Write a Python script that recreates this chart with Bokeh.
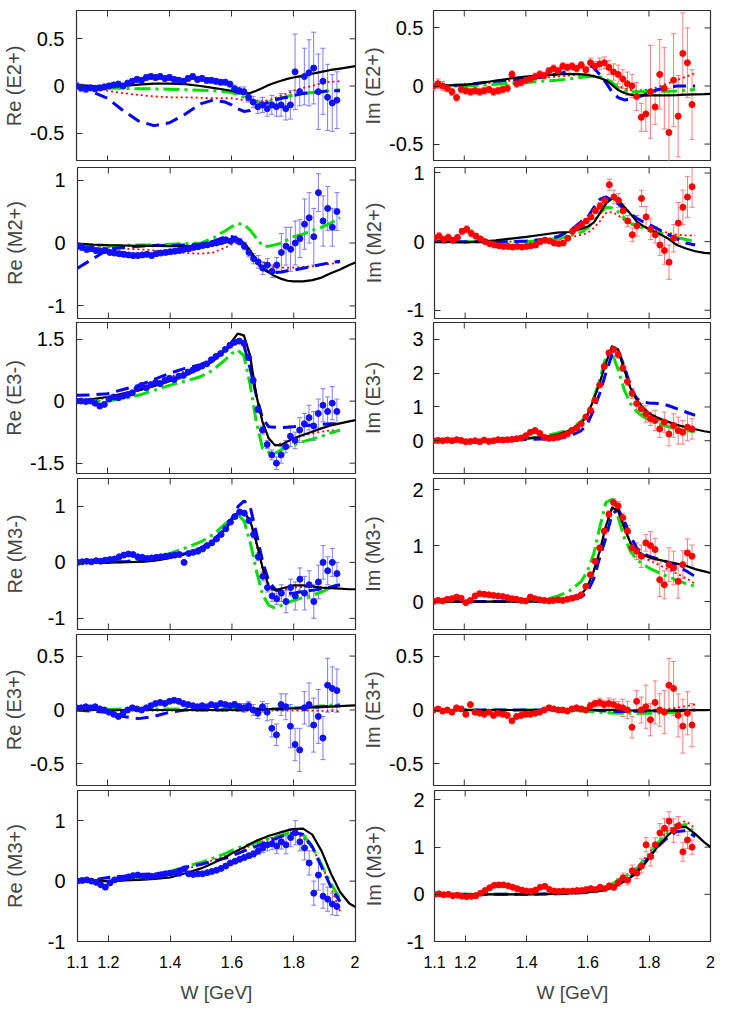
import numpy as np
from bokeh.plotting import figure
from bokeh.models import (ColumnDataSource, Range1d, FixedTicker,
                          Whisker, TeeHead, CustomJSTickFormatter)
from bokeh.layouts import column, row
from bokeh.embed import file_html
from bokeh.resources import INLINE

# ---------------- data ----------------
W_DATA = [1.100, 1.115, 1.130, 1.145, 1.160, 1.175, 1.190, 1.205, 1.220, 1.235,
          1.250, 1.265, 1.280, 1.295, 1.310, 1.325, 1.340, 1.355, 1.370, 1.385,
          1.400, 1.415, 1.430, 1.445, 1.460, 1.475, 1.490, 1.505, 1.520, 1.535,
          1.550, 1.565, 1.580, 1.595, 1.610, 1.625, 1.640, 1.655, 1.670, 1.685,
          1.700, 1.715, 1.730, 1.745, 1.760, 1.775, 1.790, 1.805, 1.820, 1.835,
          1.850, 1.865, 1.880, 1.895, 1.910, 1.925, 1.940]

W_CURVE = [1.10, 1.15, 1.20, 1.25, 1.30, 1.35, 1.40, 1.45, 1.50, 1.54, 1.58,
           1.60, 1.62, 1.64, 1.66, 1.68, 1.70, 1.72, 1.74, 1.76, 1.78, 1.80,
           1.83, 1.86, 1.89, 1.92, 1.95, 1.98, 2.00]

X_TICKS = [1.1, 1.2, 1.4, 1.6, 1.8, 2.0]

# Re(E2+)
RE_E2P_BLACK = [0.01, 0.0, -0.01, 0.0, 0.015, 0.025, 0.025, 0.02, 0.0, -0.02, -0.04, -0.05, -0.07, -0.08, -0.075, -0.05, -0.02, 0.01, 0.035, 0.055, 0.075, 0.09, 0.11, 0.13, 0.15, 0.17, 0.185, 0.2, 0.21]
RE_E2P_BLUE = [0.0, -0.06, -0.13, -0.26, -0.37, -0.42, -0.39, -0.3, -0.19, -0.15, -0.17, -0.2, -0.24, -0.27, -0.26, -0.23, -0.2, -0.17, -0.15, -0.13, -0.12, -0.1, -0.08, -0.07, -0.06, -0.05, -0.05, None, None]
RE_E2P_GREEN = [-0.01, -0.015, -0.02, -0.025, -0.03, -0.03, -0.035, -0.04, -0.045, -0.05, -0.06, -0.07, -0.09, -0.12, -0.15, -0.17, -0.18, -0.17, -0.15, -0.13, -0.11, -0.1, -0.08, -0.07, -0.06, -0.05, -0.04, None, None]
RE_E2P_RED = [0.0, -0.03, -0.05, -0.075, -0.095, -0.11, -0.12, -0.12, -0.125, -0.13, -0.13, -0.13, -0.14, -0.15, -0.16, -0.16, -0.16, -0.15, -0.13, -0.1, -0.08, -0.05, -0.02, 0.0, 0.03, 0.045, 0.05, None, None]
RE_E2P_DATA = [0.0, -0.02, -0.03, -0.02, -0.03, -0.02, -0.01, 0.0, 0.01, 0.02,
               0.0, 0.03, 0.05, 0.07, 0.06, 0.09, 0.1, 0.09, 0.1, 0.08,
               0.09, 0.07, 0.06, 0.05, 0.08, 0.1, 0.07, 0.08, 0.06, 0.06,
               0.05, 0.04, 0.04, 0.02, -0.03, -0.05, -0.06, -0.12, -0.17, -0.22,
               -0.2, -0.24, -0.2, -0.22, -0.2, -0.24, -0.2, 0.15, -0.06, 0.1,
               0.14, 0.19, -0.06, 0.05, -0.12, -0.18, -0.15]
ERR_E2P = [0.04, 0.04, 0.04, 0.03, 0.03, 0.03, 0.03, 0.03, 0.03, 0.03,
           0.03, 0.03, 0.03, 0.03, 0.03, 0.03, 0.03, 0.03, 0.03, 0.03,
           0.03, 0.03, 0.03, 0.03, 0.03, 0.03, 0.03, 0.03, 0.03, 0.03,
           0.03, 0.03, 0.03, 0.03, 0.04, 0.04, 0.05, 0.05, 0.06, 0.07,
           0.08, 0.08, 0.1, 0.1, 0.12, 0.12, 0.15, 0.4, 0.15, 0.3,
           0.35, 0.38, 0.4, 0.35, 0.35, 0.3, 0.3]

# Im(E2+)
IM_E2P_BLACK = [0.0, 0.005, 0.01, 0.025, 0.045, 0.065, 0.08, 0.09, 0.1, 0.105, 0.1, 0.095, 0.085, 0.07, 0.05, 0.01, -0.035, -0.06, -0.075, -0.08, -0.08, -0.08, -0.08, -0.08, -0.078, -0.075, -0.072, -0.07, -0.068]
IM_E2P_BLUE = [0.0, 0.005, 0.01, 0.025, 0.04, 0.05, 0.06, 0.075, 0.1, 0.13, 0.18, 0.19, 0.16, 0.1, 0.03, -0.05, -0.1, -0.12, -0.115, -0.1, -0.08, -0.06, -0.03, -0.015, 0.0, 0.0, 0.0, None, None]
IM_E2P_GREEN = [0.0, 0.0, 0.0, 0.008, 0.015, 0.022, 0.03, 0.04, 0.05, 0.06, 0.075, 0.08, 0.085, 0.08, 0.06, 0.03, -0.015, -0.04, -0.05, -0.05, -0.048, -0.045, -0.045, -0.045, -0.042, -0.038, -0.03, None, None]
IM_E2P_RED = [0.0, 0.005, 0.01, 0.02, 0.03, 0.045, 0.06, 0.07, 0.08, 0.09, 0.1, 0.1, 0.09, 0.07, 0.05, 0.02, 0.0, -0.02, -0.035, -0.04, -0.035, -0.03, -0.01, 0.02, 0.05, 0.08, 0.11, None, None]
IM_E2P_DATA = [0.0, 0.02, 0.0, -0.02, -0.05, -0.1, -0.03, -0.04, -0.05, -0.04,
               -0.05, -0.04, -0.03, -0.05, -0.04, -0.03, -0.02, 0.1, 0.02, 0.03,
               0.05, 0.06, 0.08, 0.1, 0.09, 0.13, 0.15, 0.13, 0.17, 0.16,
               0.17, 0.15, 0.18, 0.14, 0.2, 0.17, 0.19, 0.2, 0.16, 0.12,
               0.1, 0.06, 0.02, 0.0, -0.09, -0.27, -0.24, -0.05, -0.18, 0.1,
               -0.02, -0.4, 0.05, -0.26, 0.28, 0.2, -0.16]

# Re(M2+)
RE_M2P_BLACK = [-0.01, -0.025, -0.035, -0.04, -0.045, -0.045, -0.05, -0.05, -0.05, -0.03, 0.01, 0.04, 0.05, 0.0, -0.13, -0.28, -0.39, -0.47, -0.53, -0.57, -0.6, -0.61, -0.61, -0.59, -0.55, -0.48, -0.42, -0.35, -0.31]
RE_M2P_BLUE = [-0.4, -0.25, -0.1, -0.07, -0.05, -0.04, -0.04, -0.03, -0.02, 0.03, 0.1, 0.1, 0.06, -0.05, -0.16, -0.3, -0.41, -0.46, -0.47, -0.46, -0.44, -0.43, -0.4, -0.37, -0.34, -0.31, -0.29, None, None]
RE_M2P_GREEN = [-0.03, -0.05, -0.05, -0.04, -0.03, -0.03, -0.02, -0.01, 0.0, 0.08, 0.2, 0.26, 0.31, 0.29, 0.2, 0.07, -0.05, -0.05, -0.03, 0.0, 0.05, 0.1, 0.14, 0.2, 0.25, 0.32, 0.4, None, None]
RE_M2P_RED = [-0.05, -0.06, -0.075, -0.09, -0.1, -0.12, -0.14, -0.16, -0.17, -0.15, -0.07, -0.02, 0.0, -0.05, -0.14, -0.25, -0.3, -0.36, -0.39, -0.39, -0.39, -0.39, -0.38, -0.37, -0.35, -0.33, -0.31, None, None]
RE_M2P_DATA = [-0.05, -0.07, -0.1, -0.09, -0.12, -0.13, -0.12, -0.15, -0.16, -0.17,
               -0.18, -0.19, -0.2, -0.2, -0.19, -0.18, -0.2, -0.17, -0.16, -0.15,
               -0.14, -0.13, -0.12, -0.1, -0.09, -0.07, -0.06, -0.04, -0.03, -0.01,
               0.0, 0.02, 0.05, 0.03, 0.06, 0.02, -0.05, -0.15, -0.25, -0.3,
               -0.4, -0.35, -0.45, -0.35, -0.15, -0.05, -0.1, 0.0, 0.07, 0.3,
               0.4, 0.1, 0.8, 0.35, 0.55, 0.25, 0.5]
ERR_M2P = [0.05, 0.05, 0.05, 0.04, 0.04, 0.04, 0.04, 0.04, 0.04, 0.04,
           0.04, 0.04, 0.04, 0.04, 0.04, 0.04, 0.04, 0.04, 0.04, 0.04,
           0.04, 0.04, 0.04, 0.04, 0.04, 0.04, 0.04, 0.04, 0.04, 0.04,
           0.04, 0.04, 0.04, 0.04, 0.05, 0.05, 0.06, 0.07, 0.08, 0.1,
           0.1, 0.1, 0.1, 0.12, 0.3, 0.3, 0.35, 0.35, 0.3, 0.4,
           0.4, 0.45, 0.3, 0.4, 0.35, 0.3, 0.3]

# Im(M2+)
IM_M2P_BLACK = [0.0, -0.005, -0.01, 0.0, 0.02, 0.045, 0.07, 0.1, 0.13, 0.14, 0.19, 0.22, 0.28, 0.42, 0.56, 0.63, 0.6, 0.5, 0.4, 0.29, 0.23, 0.18, 0.12, 0.05, -0.05, -0.1, -0.14, -0.165, -0.17]
IM_M2P_BLUE = [0.0, 0.0, 0.0, 0.0, 0.0, 0.0, 0.01, 0.03, 0.07, 0.15, 0.3, 0.36, 0.5, 0.62, 0.65, 0.6, 0.55, 0.47, 0.4, 0.34, 0.29, 0.25, 0.18, 0.11, 0.04, -0.02, -0.05, None, None]
IM_M2P_GREEN = [0.0, 0.0, 0.0, 0.0, 0.0, 0.0, 0.0, 0.02, 0.045, 0.08, 0.14, 0.2, 0.3, 0.42, 0.5, 0.49, 0.43, 0.34, 0.27, 0.23, 0.2, 0.16, 0.13, 0.1, 0.06, 0.03, 0.0, None, None]
IM_M2P_RED = [0.0, 0.0, 0.0, 0.0, 0.0, 0.0, 0.0, 0.01, 0.03, 0.06, 0.1, 0.13, 0.2, 0.3, 0.42, 0.43, 0.38, 0.31, 0.25, 0.22, 0.2, 0.19, 0.16, 0.13, 0.1, 0.09, 0.09, None, None]
IM_M2P_DATA = [0.05, 0.08, 0.03, 0.06, 0.02, 0.06, 0.15, 0.18, 0.12, 0.08,
               0.04, 0.0, -0.03, -0.05, -0.06, -0.07, -0.07, -0.08, -0.07, -0.08,
               -0.07, -0.06, -0.05, 0.0, 0.02, 0.01, -0.02, -0.03, -0.02, 0.05,
               0.15, 0.2, 0.25, 0.3, 0.36, 0.45, 0.52, 0.6, 0.83, 0.65,
               0.6, 0.45, 0.3, 0.1, 0.23, 0.63, 0.36, 0.18, 0.1, -0.05,
               -0.13, -0.3, 0.05, 0.27, 0.5, 0.65, 0.8]
ERR_IM_M2P = [0.05, 0.05, 0.05, 0.05, 0.04, 0.04, 0.04, 0.05, 0.05, 0.04,
              0.03, 0.03, 0.03, 0.03, 0.03, 0.03, 0.03, 0.03, 0.03, 0.03,
              0.03, 0.03, 0.03, 0.03, 0.03, 0.03, 0.03, 0.03, 0.03, 0.03,
              0.03, 0.03, 0.03, 0.03, 0.04, 0.04, 0.05, 0.06, 0.08, 0.1,
              0.1, 0.1, 0.08, 0.1, 0.15, 0.12, 0.15, 0.15, 0.12, 0.15,
              0.2, 0.25, 0.2, 0.3, 0.25, 0.3, 0.3]

# Re(E3-)
RE_E3M_BLACK = [0.0, 0.05, 0.1, 0.18, 0.26, 0.36, 0.48, 0.62, 0.79, 0.96, 1.23, 1.43, 1.63, 1.59, 1.1, 0.14, -0.5, -0.9, -1.07, -1.06, -0.98, -0.9, -0.82, -0.74, -0.66, -0.59, -0.54, -0.49, -0.46]
RE_E3M_BLUE = [0.14, 0.15, 0.18, 0.28, 0.38, 0.52, 0.67, 0.79, 0.88, 1.02, 1.25, 1.35, 1.44, 1.35, 0.79, 0.14, -0.42, -0.62, -0.63, -0.64, -0.63, -0.62, -0.6, -0.58, -0.56, -0.55, -0.54, None, None]
RE_E3M_GREEN = [0.0, 0.0, 0.0, 0.06, 0.14, 0.26, 0.38, 0.48, 0.59, 0.75, 1.0, 1.15, 1.23, 1.1, 0.4, -0.5, -1.14, -1.24, -1.26, -1.18, -1.12, -1.06, -0.98, -0.92, -0.85, -0.77, -0.7, None, None]
RE_E3M_RED = [0.0, 0.02, 0.08, 0.19, 0.3, 0.44, 0.58, 0.72, 0.87, 0.98, 1.25, 1.43, 1.63, 1.57, 1.1, 0.14, -0.5, -0.9, -1.05, -1.03, -0.98, -0.9, -0.84, -0.78, -0.74, -0.71, -0.7, None, None]
RE_E3M_DATA = [0.0, 0.0, -0.01, 0.0, -0.05, -0.12, -0.08, 0.05, 0.1, 0.08,
               0.12, 0.15, 0.2, 0.3, 0.38, 0.32, 0.4, 0.45, 0.42, 0.5,
               0.55, 0.52, 0.6, 0.62, 0.7, 0.75, 0.8, 0.85, 0.9, 1.0,
               1.08, 1.15, 1.25, 1.35, 1.42, 1.45, 1.4, 1.05, 0.5, -0.2,
               -0.7, -1.05, -1.3, -1.5, -1.3, -1.1, -0.85, -0.95, -0.7, -0.55,
               -0.4, -0.6, -0.3, -0.1, -0.25, -0.05, -0.25]
ERR_E3M = [0.03, 0.03, 0.03, 0.03, 0.04, 0.04, 0.04, 0.04, 0.04, 0.04,
           0.04, 0.04, 0.04, 0.04, 0.04, 0.04, 0.04, 0.04, 0.04, 0.04,
           0.04, 0.04, 0.04, 0.04, 0.04, 0.04, 0.04, 0.04, 0.04, 0.04,
           0.04, 0.04, 0.05, 0.05, 0.05, 0.05, 0.06, 0.06, 0.08, 0.08,
           0.1, 0.1, 0.12, 0.15, 0.2, 0.15, 0.25, 0.2, 0.3, 0.25,
           0.3, 0.35, 0.35, 0.4, 0.35, 0.4, 0.3]

# Im(E3-)
IM_E3M_BLACK = [0.0, 0.0, 0.01, 0.015, 0.02, 0.04, 0.07, 0.11, 0.17, 0.3, 0.52, 0.76, 1.21, 1.71, 2.3, 2.8, 2.7, 2.1, 1.56, 1.21, 0.98, 0.81, 0.67, 0.57, 0.47, 0.4, 0.34, 0.28, 0.25]
IM_E3M_BLUE = [0.0, 0.0, 0.0, 0.01, 0.02, 0.03, 0.04, 0.05, 0.06, 0.12, 0.3, 0.5, 0.9, 1.4, 2.0, 2.55, 2.65, 2.2, 1.6, 1.25, 1.15, 1.12, 1.1, 1.05, 0.95, 0.85, 0.75, None, None]
IM_E3M_GREEN = [0.0, 0.0, 0.0, 0.01, 0.02, 0.03, 0.05, 0.12, 0.22, 0.32, 0.57, 0.81, 1.25, 1.8, 2.5, 2.6, 2.1, 1.5, 1.1, 0.86, 0.72, 0.62, 0.5, 0.42, 0.35, 0.3, 0.27, None, None]
IM_E3M_RED = [0.0, 0.0, 0.01, 0.015, 0.02, 0.04, 0.07, 0.11, 0.18, 0.3, 0.52, 0.76, 1.2, 1.7, 2.3, 2.75, 2.65, 2.1, 1.58, 1.25, 1.0, 0.84, 0.68, 0.57, 0.47, 0.4, 0.35, None, None]
IM_E3M_DATA = [0.0, 0.01, 0.0, 0.02, 0.0, 0.03, 0.01, -0.03, -0.02, 0.0,
               -0.03, 0.02, -0.02, 0.0, 0.03, 0.02, 0.03, 0.04, 0.06, 0.08,
               0.15, 0.25, 0.3, 0.22, 0.1, 0.07, 0.08, 0.1, 0.15, 0.2,
               0.3, 0.38, 0.5, 0.7, 0.9, 1.2, 1.65, 2.2, 2.6, 2.7,
               2.55, 2.15, 1.75, 1.4, 1.1, 0.95, 0.8, 0.65, 0.6, 0.35,
               0.55, 0.2, 0.45, 0.3, 0.25, 0.4, 0.35]

# Re(M3-)
RE_M3M_BLACK = [0.0, 0.0, 0.0, 0.005, 0.01, 0.03, 0.08, 0.15, 0.25, 0.37, 0.6, 0.76, 0.9, 0.9, 0.73, 0.34, -0.11, -0.44, -0.5, -0.47, -0.44, -0.41, -0.41, -0.43, -0.45, -0.46, -0.47, -0.48, -0.48]
RE_M3M_BLUE = [0.0, 0.0, 0.0, 0.01, 0.02, 0.04, 0.09, 0.16, 0.26, 0.4, 0.62, 0.79, 1.0, 1.1, 0.97, 0.5, 0.0, -0.35, -0.48, -0.53, -0.55, -0.55, -0.52, -0.5, -0.47, -0.44, -0.4, None, None]
RE_M3M_GREEN = [0.0, 0.0, 0.0, 0.02, 0.04, 0.09, 0.16, 0.26, 0.37, 0.5, 0.7, 0.79, 0.86, 0.73, 0.34, -0.17, -0.59, -0.77, -0.82, -0.77, -0.72, -0.68, -0.63, -0.59, -0.53, -0.45, -0.37, None, None]
RE_M3M_RED = [0.0, 0.0, 0.0, 0.005, 0.01, 0.03, 0.08, 0.15, 0.26, 0.38, 0.6, 0.76, 0.89, 0.88, 0.7, 0.3, -0.15, -0.45, -0.52, -0.5, -0.47, -0.45, -0.44, -0.44, -0.45, -0.45, -0.45, None, None]
RE_M3M_DATA = [0.0, 0.01, 0.02, 0.01, 0.03, 0.02, 0.04, 0.05, 0.06, 0.1,
               0.13, 0.15, 0.14, 0.1, 0.09, 0.07, 0.08, 0.09, 0.1, 0.11,
               0.12, 0.13, 0.14, 0.0, 0.16, 0.18, 0.2, 0.24, 0.3, 0.35,
               0.42, 0.5, 0.6, 0.72, 0.82, 0.9, 0.88, 0.75, 0.5, 0.1,
               -0.25, -0.45, -0.6, -0.65, -0.55, -0.7, -0.45, -0.6, -0.3, -0.55,
               -0.4, -0.7, -0.35, 0.0, -0.15, 0.0, -0.2]
ERR_M3M = [0.03, 0.03, 0.03, 0.02, 0.02, 0.02, 0.02, 0.02, 0.02, 0.02,
           0.02, 0.02, 0.02, 0.02, 0.02, 0.02, 0.02, 0.02, 0.02, 0.02,
           0.02, 0.02, 0.02, 0.02, 0.02, 0.02, 0.02, 0.02, 0.02, 0.02,
           0.02, 0.02, 0.02, 0.02, 0.03, 0.03, 0.04, 0.05, 0.06, 0.07,
           0.08, 0.08, 0.1, 0.1, 0.15, 0.2, 0.15, 0.25, 0.2, 0.3,
           0.25, 0.3, 0.3, 0.3, 0.25, 0.25, 0.2]

# Im(M3-)
IM_M3M_BLACK = [0.0, 0.0, 0.0, 0.0, 0.0, 0.0, 0.0, 0.005, 0.01, 0.02, 0.12, 0.27, 0.54, 0.9, 1.35, 1.68, 1.62, 1.32, 1.05, 0.9, 0.84, 0.79, 0.75, 0.71, 0.68, 0.64, 0.58, 0.54, 0.51]
IM_M3M_BLUE = [0.0, 0.0, 0.0, 0.0, 0.0, 0.0, 0.0, 0.005, 0.01, 0.02, 0.08, 0.17, 0.4, 0.78, 1.14, 1.56, 1.65, 1.44, 1.17, 0.96, 0.86, 0.81, 0.76, 0.71, 0.64, 0.55, 0.45, None, None]
IM_M3M_GREEN = [0.0, 0.0, 0.0, 0.0, 0.0, 0.0, 0.0, 0.02, 0.09, 0.18, 0.36, 0.54, 0.84, 1.32, 1.77, 1.83, 1.5, 1.14, 0.9, 0.75, 0.67, 0.6, 0.52, 0.45, 0.38, 0.32, 0.27, None, None]
IM_M3M_RED = [0.0, 0.0, 0.0, 0.0, 0.0, 0.0, 0.0, 0.005, 0.01, 0.02, 0.12, 0.27, 0.52, 0.88, 1.32, 1.65, 1.6, 1.3, 1.03, 0.88, 0.8, 0.74, 0.66, 0.58, 0.5, 0.42, 0.32, None, None]
IM_M3M_DATA = [0.0, 0.02, 0.01, 0.04, 0.05, 0.08, 0.06, -0.02, 0.02, 0.1,
               0.14, 0.13, 0.12, 0.11, 0.1, 0.09, 0.07, 0.05, 0.04, 0.02,
               0.01, 0.08, 0.05, 0.03, 0.02, 0.01, 0.02, 0.03, 0.02, 0.04,
               0.06, 0.08, 0.12, 0.27, 0.48, 0.72, 0.96, 1.26, 1.56, 1.77,
               1.71, 1.5, 1.26, 0.96, 0.9, 0.81, 1.05, 1.0, 0.93, 0.39,
               0.3, 0.66, 0.6, 0.36, 0.66, 0.87, 0.81]

# Re(E3+)
RE_E3P_BLACK = [0.0, 0.0, 0.0, 0.0, 0.0, 0.0, 0.0, 0.0, 0.0, 0.0, 0.0, 0.0, 0.002, 0.004, 0.005, 0.006, 0.007, 0.008, 0.01, 0.012, 0.014, 0.016, 0.02, 0.024, 0.028, 0.032, 0.036, 0.04, 0.042]
RE_E3P_BLUE = [0.0, -0.01, -0.02, -0.06, -0.08, -0.06, -0.02, 0.0, 0.0, 0.0, 0.0, 0.0, 0.0, 0.0, 0.005, 0.005, 0.005, 0.006, 0.008, 0.01, 0.012, 0.015, 0.02, 0.025, 0.03, 0.035, 0.04, None, None]
RE_E3P_GREEN = [0.0, 0.0, 0.005, 0.01, 0.01, 0.01, 0.01, 0.01, 0.01, 0.01, 0.01, 0.01, 0.01, 0.01, 0.01, 0.01, 0.01, 0.01, 0.01, 0.012, 0.015, 0.018, 0.022, 0.03, 0.038, 0.045, 0.05, None, None]
RE_E3P_RED = [0.0, 0.0, -0.005, -0.005, -0.005, -0.005, -0.005, -0.005, -0.005, -0.005, -0.005, -0.005, -0.005, -0.005, -0.005, -0.005, -0.005, -0.005, -0.005, -0.005, -0.005, -0.005, -0.005, -0.005, -0.008, -0.01, -0.012, None, None]
RE_E3P_DATA = [0.02, 0.02, 0.03, 0.02, 0.03, 0.01, 0.0, -0.02, -0.04, -0.06,
               -0.03, 0.0, 0.02, 0.01, 0.0, 0.02, 0.04, 0.06, 0.07, 0.06,
               0.08, 0.09, 0.08, 0.06, 0.05, 0.04, 0.03, 0.04, 0.03, 0.05,
               0.04, 0.06, 0.05, 0.04, 0.05, 0.03, 0.02, 0.04, 0.0, -0.03,
               0.03, -0.02, -0.17, -0.23, 0.05, 0.03, -0.15, -0.32, -0.37, 0.02,
               0.05, -0.14, -0.06, -0.26, 0.23, 0.2, 0.18]
ERR_E3P = [0.02, 0.02, 0.02, 0.02, 0.02, 0.02, 0.02, 0.02, 0.02, 0.02,
           0.02, 0.02, 0.02, 0.02, 0.02, 0.02, 0.02, 0.02, 0.02, 0.02,
           0.02, 0.02, 0.02, 0.02, 0.02, 0.02, 0.02, 0.02, 0.02, 0.02,
           0.02, 0.02, 0.02, 0.02, 0.03, 0.03, 0.04, 0.04, 0.05, 0.05,
           0.05, 0.08, 0.08, 0.1, 0.1, 0.12, 0.2, 0.15, 0.2, 0.15,
           0.2, 0.25, 0.25, 0.2, 0.25, 0.2, 0.2]

# Im(E3+)
IM_E3P_BLACK = [0.0, 0.0, 0.0, 0.0, 0.0, 0.0, 0.0, 0.0, 0.0, 0.0, 0.0, 0.0, 0.0, 0.0, 0.0, 0.0, 0.0, -0.002, -0.004, -0.005, -0.005, -0.005, -0.005, -0.005, -0.004, -0.003, -0.002, -0.001, 0.0]
IM_E3P_BLUE = [0.0, 0.0, 0.0, 0.0, 0.0, 0.0, 0.0, 0.0, 0.0, 0.0, 0.0, 0.0, 0.0, -0.005, -0.01, -0.012, -0.015, -0.015, -0.012, -0.01, -0.01, -0.01, -0.008, -0.006, -0.004, -0.002, 0.0, None, None]
IM_E3P_GREEN = [0.0, 0.0, 0.0, 0.0, 0.0, 0.0, 0.0, 0.0, -0.005, -0.008, -0.01, -0.012, -0.015, -0.02, -0.025, -0.028, -0.03, -0.03, -0.03, -0.03, -0.03, -0.03, -0.028, -0.025, -0.02, -0.012, -0.005, None, None]
IM_E3P_RED = [0.0, 0.0, 0.0, 0.0, 0.0, 0.0, 0.0, 0.0, 0.0, 0.0, 0.0, 0.0, 0.0, -0.005, -0.008, -0.01, -0.01, -0.01, -0.008, -0.006, -0.004, -0.002, 0.0, 0.01, 0.02, 0.035, 0.05, None, None]
IM_E3P_DATA = [0.0, 0.01, -0.01, 0.0, -0.02, 0.02, 0.01, -0.04, 0.05, -0.02,
               -0.03, -0.04, -0.02, -0.05, -0.03, -0.04, -0.05, -0.1, -0.06, -0.05,
               -0.04, -0.04, -0.03, -0.02, 0.0, 0.02, 0.01, 0.0, 0.0, -0.01,
               0.01, 0.02, 0.01, 0.0, 0.04, 0.06, 0.07, 0.05, 0.06, 0.05,
               0.03, 0.02, 0.0, -0.16, 0.08, 0.0, 0.03, -0.09, 0.07, 0.0,
               -0.02, 0.23, 0.2, -0.05, -0.15, -0.03, -0.14]

# Re(M3+)
RE_M3P_BLACK = [0.0, 0.0, 0.0, 0.01, 0.02, 0.035, 0.06, 0.13, 0.21, 0.3, 0.4, 0.46, 0.51, 0.56, 0.62, 0.67, 0.71, 0.75, 0.78, 0.81, 0.84, 0.86, 0.87, 0.77, 0.5, 0.13, -0.18, -0.37, -0.43]
RE_M3P_BLUE = [0.0, 0.02, 0.06, 0.08, 0.11, 0.12, 0.15, 0.23, 0.28, 0.33, 0.38, 0.42, 0.46, 0.5, 0.54, 0.58, 0.62, 0.66, 0.7, 0.74, 0.77, 0.8, 0.77, 0.57, 0.24, -0.09, -0.34, None, None]
RE_M3P_GREEN = [0.0, 0.0, 0.0, 0.02, 0.04, 0.1, 0.16, 0.24, 0.31, 0.38, 0.46, 0.51, 0.55, 0.58, 0.61, 0.64, 0.67, 0.7, 0.73, 0.76, 0.79, 0.82, 0.77, 0.57, 0.27, -0.04, -0.29, None, None]
RE_M3P_RED = [0.0, 0.0, 0.0, 0.02, 0.04, 0.08, 0.13, 0.2, 0.27, 0.35, 0.42, 0.46, 0.5, 0.54, 0.58, 0.62, 0.66, 0.7, 0.73, 0.76, 0.78, 0.8, 0.72, 0.54, 0.28, -0.1, -0.5, None, None]
RE_M3P_DATA = [0.0, 0.01, 0.02, 0.0, -0.02, -0.06, -0.1, -0.03, 0.02, 0.04,
               0.05, 0.07, 0.09, 0.1, 0.08, 0.07, 0.08, 0.09, 0.1, 0.12,
               0.13, 0.14, 0.13, 0.2, 0.12, 0.11, 0.12, 0.12, 0.14, 0.16,
               0.18, 0.21, 0.25, 0.3, 0.33, 0.36, 0.39, 0.42, 0.45, 0.5,
               0.55, 0.6, 0.62, 0.58, 0.65, 0.6, 0.72, 0.8, 0.65, 0.55,
               0.3, -0.2, 0.1, -0.25, -0.3, -0.38, -0.42]
ERR_M3P = [0.03, 0.03, 0.03, 0.03, 0.03, 0.03, 0.04, 0.03, 0.02, 0.02,
           0.02, 0.02, 0.02, 0.02, 0.02, 0.02, 0.02, 0.02, 0.02, 0.02,
           0.02, 0.02, 0.02, 0.02, 0.02, 0.02, 0.02, 0.02, 0.02, 0.02,
           0.02, 0.02, 0.02, 0.02, 0.03, 0.03, 0.03, 0.04, 0.05, 0.06,
           0.08, 0.1, 0.1, 0.12, 0.12, 0.15, 0.15, 0.2, 0.15, 0.2,
           0.2, 0.2, 0.25, 0.2, 0.2, 0.18, 0.15]

# Im(M3+)
IM_M3P_BLACK = [0.0, 0.0, 0.0, 0.0, 0.0, 0.0, 0.0, 0.005, 0.01, 0.02, 0.03, 0.04, 0.055, 0.07, 0.1, 0.14, 0.2, 0.28, 0.36, 0.46, 0.6, 0.77, 1.03, 1.24, 1.42, 1.43, 1.28, 1.1, 1.0]
IM_M3P_BLUE = [0.0, 0.0, 0.0, 0.0, 0.0, 0.0, 0.0, 0.005, 0.01, 0.02, 0.035, 0.045, 0.06, 0.08, 0.11, 0.15, 0.22, 0.3, 0.38, 0.48, 0.63, 0.8, 1.02, 1.2, 1.33, 1.35, 1.22, None, None]
IM_M3P_GREEN = [0.0, 0.0, 0.0, 0.0, 0.0, 0.0, 0.005, 0.01, 0.02, 0.04, 0.06, 0.08, 0.1, 0.12, 0.16, 0.22, 0.31, 0.38, 0.46, 0.55, 0.7, 0.85, 1.1, 1.3, 1.44, 1.48, 1.3, None, None]
IM_M3P_RED = [0.0, 0.0, 0.0, 0.0, 0.0, 0.0, 0.005, 0.01, 0.02, 0.04, 0.06, 0.08, 0.1, 0.12, 0.16, 0.22, 0.3, 0.38, 0.46, 0.56, 0.72, 0.88, 1.12, 1.34, 1.5, 1.55, 1.4, None, None]
IM_M3P_DATA = [0.0, 0.01, -0.01, 0.0, -0.03, -0.02, -0.04, -0.05, -0.04, -0.03,
               0.02, 0.08, 0.14, 0.19, 0.2, 0.2, 0.18, 0.15, 0.12, 0.09,
               0.07, 0.06, 0.09, 0.15, 0.17, 0.1, 0.07, 0.06, 0.07, 0.06,
               0.07, 0.08, 0.08, 0.1, 0.12, 0.1, 0.15, 0.12, 0.18, 0.15,
               0.25, 0.35, 0.3, 0.5, 0.45, 0.6, 1.05, 0.8, 1.05, 1.3,
               1.4, 1.55, 1.35, 1.45, 0.9, 1.15, 1.0]

PANELS = [
    ("Re (E2+)", (-0.8, 0.8), [-0.5, 0, 0.5], (RE_E2P_BLACK, RE_E2P_BLUE, RE_E2P_GREEN, RE_E2P_RED), RE_E2P_DATA, ERR_E2P, "re"),
    ("Im (E2+)", (-0.65, 0.65), [-0.5, 0, 0.5], (IM_E2P_BLACK, IM_E2P_BLUE, IM_E2P_GREEN, IM_E2P_RED), IM_E2P_DATA, ERR_E2P, "im"),
    ("Re (M2+)", (-1.2, 1.2), [-1, 0, 1], (RE_M2P_BLACK, RE_M2P_BLUE, RE_M2P_GREEN, RE_M2P_RED), RE_M2P_DATA, ERR_M2P, "re"),
    ("Im (M2+)", (-1.12, 1.08), [-1, 0, 1], (IM_M2P_BLACK, IM_M2P_BLUE, IM_M2P_GREEN, IM_M2P_RED), IM_M2P_DATA, ERR_IM_M2P, "im"),
    ("Re (E3-)", (-1.75, 1.9), [-1.5, 0, 1.5], (RE_E3M_BLACK, RE_E3M_BLUE, RE_E3M_GREEN, RE_E3M_RED), RE_E3M_DATA, ERR_E3M, "re"),
    ("Im (E3-)", (-0.97, 3.5), [0, 1, 2, 3], (IM_E3M_BLACK, IM_E3M_BLUE, IM_E3M_GREEN, IM_E3M_RED), IM_E3M_DATA, ERR_E3M, "im"),
    ("Re (M3-)", (-1.2, 1.5), [-1, 0, 1], (RE_M3M_BLACK, RE_M3M_BLUE, RE_M3M_GREEN, RE_M3M_RED), RE_M3M_DATA, ERR_M3M, "re"),
    ("Im (M3-)", (-0.5, 2.2), [0, 1, 2], (IM_M3M_BLACK, IM_M3M_BLUE, IM_M3M_GREEN, IM_M3M_RED), IM_M3M_DATA, ERR_M3M, "im"),
    ("Re (E3+)", (-0.7, 0.7), [-0.5, 0, 0.5], (RE_E3P_BLACK, RE_E3P_BLUE, RE_E3P_GREEN, RE_E3P_RED), RE_E3P_DATA, ERR_E3P, "re"),
    ("Im (E3+)", (-0.7, 0.7), [-0.5, 0, 0.5], (IM_E3P_BLACK, IM_E3P_BLUE, IM_E3P_GREEN, IM_E3P_RED), IM_E3P_DATA, ERR_E3P, "im"),
    ("Re (M3+)", (-1.0, 1.5), [-1, 0, 1], (RE_M3P_BLACK, RE_M3P_BLUE, RE_M3P_GREEN, RE_M3P_RED), RE_M3P_DATA, ERR_M3P, "re"),
    ("Im (M3+)", (-1.0, 2.2), [-1, 0, 1, 2], (IM_M3P_BLACK, IM_M3P_BLUE, IM_M3P_GREEN, IM_M3P_RED), IM_M3P_DATA, ERR_M3P, "im"),
]

# ---------------- style ----------------
FONT = "Liberation Sans"
AXC = "#303030"
CW = {"-": 0.333, ".": 0.278}
MARK = {"re": ("#1010ff", "#7070ff"), "im": ("#ff0000", "#ff7070")}
TICK_LEN = 6
YTICK_PX = 20
# (top border, bottom border) of each row, so that edge tick labels have room
ROW_BORDERS = [(10, 0), (6, 4), (0, 3), (2, 3), (2, 3), (2, 72)]


def text_w(s, size):
    return sum(CW.get(c, 0.556) for c in s) * size


def style_axis(ax, ticker, size):
    ax.ticker = ticker
    ax.formatter = CustomJSTickFormatter(code="return String(tick);")
    ax.axis_line_color = None
    ax.major_tick_in = TICK_LEN
    ax.major_tick_out = 0
    ax.minor_tick_in = 0
    ax.minor_tick_out = 0
    ax.major_tick_line_color = AXC
    ax.major_tick_line_width = 1
    ax.major_label_text_font = FONT
    ax.major_label_text_color = "black"
    ax.major_label_text_font_size = size


def make_panel(spec, col, r):
    label, yr, yticks, curves, data, err, kind = spec
    bottom = (r == 5)
    if col == 0:
        lb, fw, rb, lstand = 75, 280, 4, 12
    else:
        lb, fw, rb, lstand = 71, 280, 8, 10
    tb, bb = ROW_BORDERS[r]
    fh = 151
    p = figure(width=lb + fw + rb, height=tb + fh + bb,
               x_range=Range1d(1.1, 2.0), y_range=Range1d(yr[0], yr[1]),
               output_backend="svg", toolbar_location=None,
               min_border_left=lb, min_border_right=rb,
               min_border_top=tb, min_border_bottom=bb)
    p.grid.visible = False
    p.outline_line_color = AXC
    p.outline_line_width = 1.2
    p.background_fill_color = "white"
    p.border_fill_color = "white"

    xt = FixedTicker(ticks=X_TICKS)
    yt = FixedTicker(ticks=yticks)

    xa = p.xaxis[0]
    if bottom:
        style_axis(xa, xt, "16px")
        xa.major_label_standoff = 14
        xa.axis_label = "W [GeV]"
        xa.axis_label_text_font = FONT
        xa.axis_label_text_font_size = "19px"
        xa.axis_label_text_font_style = "normal"
        xa.axis_label_standoff = 11
    else:
        xa.visible = False

    ya = p.yaxis[0]
    style_axis(ya, yt, f"{YTICK_PX}px")
    ya.major_label_standoff = lstand
    w = max(text_w(f"{t:g}", YTICK_PX) for t in yticks)
    ya.axis_label = label
    ya.axis_label_text_font = FONT
    ya.axis_label_text_font_size = "20px"
    ya.axis_label_text_font_style = "normal"
    ya.axis_label_standoff = max(2, int(round(36.5 - w)))

    # mirrored inward tick marks (top, right, and bottom of inner rows)
    inner_x = [t for t in X_TICKS if 1.1 < t < 2.0]
    inner_y = [t for t in yticks if yr[0] < t < yr[1]]
    tick_style = dict(length=TICK_LEN, length_units="screen",
                      line_color=AXC, line_width=1)
    p.ray(x=inner_x, y=[yr[1]] * len(inner_x), angle=-np.pi / 2, **tick_style)
    p.ray(x=[2.0] * len(inner_y), y=inner_y, angle=np.pi, **tick_style)
    if not bottom:
        p.ray(x=inner_x, y=[yr[0]] * len(inner_x), angle=np.pi / 2, **tick_style)

    # error bars
    mcol, ecol = MARK[kind]
    src = ColumnDataSource(dict(
        x=W_DATA, y=data,
        lo=[v - e for v, e in zip(data, err)],
        hi=[v + e for v, e in zip(data, err)]))
    wh = Whisker(base="x", upper="hi", lower="lo", source=src, dimension="height",
                 line_color=ecol, line_width=1, line_alpha=0.9,
                 upper_head=TeeHead(size=5, line_color=ecol, line_width=1, line_alpha=0.9),
                 lower_head=TeeHead(size=5, line_color=ecol, line_width=1, line_alpha=0.9))
    wh.level = "underlay"
    p.add_layout(wh)

    black, blue, green, red = [np.array(c, dtype=float) for c in curves]
    p.line(W_CURVE, red, line_color="#ff0000", line_width=1.8, line_dash="2 3")
    p.line(W_CURVE, green, line_color="#00dd00", line_width=3, line_dash="16 5 3 5")
    p.line(W_CURVE, blue, line_color="#0000ff", line_width=3, line_dash="13 7")
    p.line(W_CURVE, black, line_color="black", line_width=2.2)

    p.scatter("x", "y", source=src, size=6, marker="circle",
              fill_color=mcol, line_color=mcol)
    return p


rows = []
for r in range(6):
    left = make_panel(PANELS[2 * r], 0, r)
    right = make_panel(PANELS[2 * r + 1], 1, r)
    rows.append(row(left, right))

layout = column(*rows)
open("out.html", "w").write(file_html(layout, INLINE))
